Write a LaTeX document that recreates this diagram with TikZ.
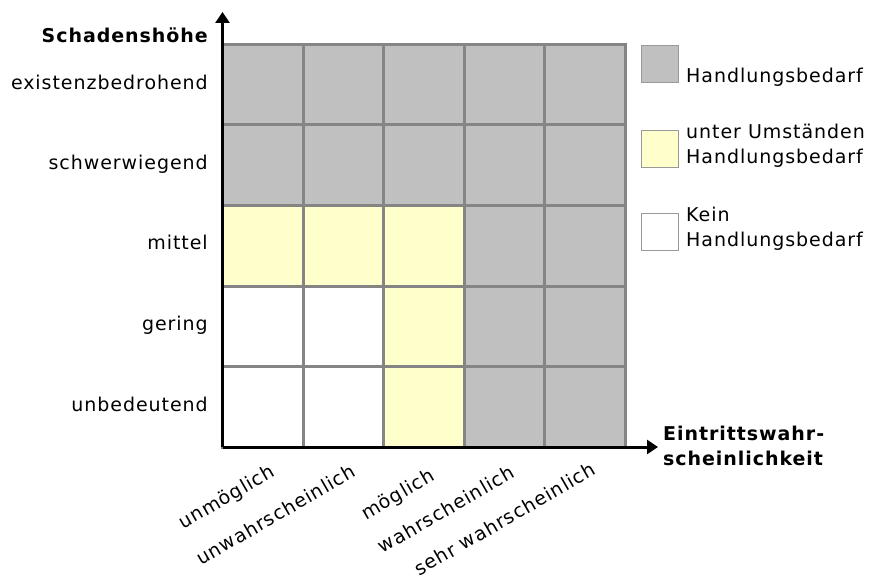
\documentclass[tikz,border=0pt]{standalone}
\usepackage{fontspec}
\setmainfont[LetterSpace=5]{DejaVu Sans}
\usetikzlibrary{arrows.meta}
\definecolor{cellgray}{HTML}{C0C0C0}
\definecolor{cellyellow}{HTML}{FFFFCC}
\definecolor{gridline}{HTML}{858585}
\definecolor{legline}{HTML}{999999}
\begin{document}
\begin{tikzpicture}[x=1pt,y=-1pt,
  font=\fontsize{19}{25}\selectfont,
  cell/.style={draw=gridline, line width=3pt, minimum size=80.5pt, inner sep=0pt, outer sep=0pt},
  axis/.style={line width=3pt, -{Triangle[length=11pt,width=14pt]}},
  rowlabel/.style={anchor=east, inner sep=0pt, text height=0.75em, text depth=0.25em},
  collabel/.style={anchor=north east, rotate=30, inner sep=0pt},
  legbox/.style={draw=legline, line width=1.5pt, minimum width=37pt, minimum height=37pt, inner sep=0pt},
  legtext/.style={anchor=west, align=left, inner sep=0pt},
  boldtext/.style={font=\fontsize{19}{25}\selectfont\bfseries}]
\useasboundingbox (0,0) rectangle (869,577);

% grid cells
\foreach \fc [count=\i from 0] in {cellgray,cellgray,cellgray,cellgray,cellgray,
  cellgray,cellgray,cellgray,cellgray,cellgray,
  cellyellow,cellyellow,cellyellow,cellgray,cellgray,
  white,white,cellyellow,cellgray,cellgray,
  white,white,cellyellow,cellgray,cellgray} {
  \pgfmathtruncatemacro\r{div(\i,5)}
  \pgfmathtruncatemacro\c{mod(\i,5)}
  \node[cell, fill=\fc] (cell-\r-\c) at ({222.5+80.5*(\c+0.5)},{44.5+80.5*(\r+0.5)}) {};
}

% axes
\coordinate (O) at (222.5,447);
\coordinate (ytip) at (222.5,12);
\coordinate (xtip) at (658,447);
\draw[axis] (O) -- (ytip);
\draw[axis] (O) -- (xtip);

% axis titles
\node[boldtext, anchor=east, inner sep=0pt] (ytitle) at (208,35) {Schadenshöhe};
\node[boldtext, legtext] (xtitle) at (663,445.5) {Eintrittswahr-\\scheinlichkeit};

% row labels
\node[rowlabel] (r0) at (208,87) {existenzbedrohend};
\node[rowlabel] (r1) at (208,167) {schwerwiegend};
\node[rowlabel] (r2) at (208,247) {mittel};
\node[rowlabel] (r3) at (208,328) {gering};
\node[rowlabel] (r4) at (208,409) {unbedeutend};

% column labels
\node[collabel] (k0) at (269,463) {unmöglich};
\node[collabel] (k1) at (350,463) {unwahrscheinlich};
\node[collabel] (k2) at (429,467) {möglich};
\node[collabel] (k3) at (509,464) {wahrscheinlich};
\node[collabel] (k4) at (590,461) {sehr wahrscheinlich};

% legend
\node[legbox, fill=cellgray] (lb1) at (660,64) {};
\node[legbox, fill=cellyellow] (lb2) at (660,149) {};
\node[legbox, fill=white] (lb3) at (660,232) {};
\node[legtext] (lt1) at (686,77) {Handlungsbedarf};
\node[legtext] (lt2) at (686,145.5) {unter Umständen\\Handlungsbedarf};
\node[legtext] (lt3) at (686,229) {Kein\\Handlungsbedarf};
\end{tikzpicture}
\end{document}
